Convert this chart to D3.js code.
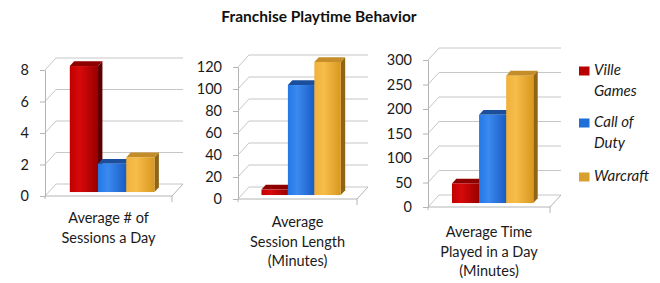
<!DOCTYPE html>
<html>
<head>
<meta charset="utf-8">
<script src="https://cdn.jsdelivr.net/npm/d3@7"></script>
<style>
  body { margin: 0; background: #fff; }
  svg { display: block; font-family: Lato, "Open Sans", sans-serif; }
</style>
</head>
<body>
<svg width="660" height="283"></svg>
<script>
// data
const series = ["Ville Games", "Call of Duty", "Warcraft"];
const legendLines = [["Ville", "Games"], ["Call of", "Duty"], ["Warcraft"]];
const panelLabels = [
  ["Average # of", "Sessions a Day"],
  ["Average", "Session Length", "(Minutes)"],
  ["Average Time", "Played in a Day", "(Minutes)"],
];
const sessionsPerDay = [8, 1.8, 2.2];
const sessionLength = [5, 100, 121];
const timePlayedPerDay = [40, 180, 260];
const yMaxes = [8, 120, 300];
const tickSteps = [2, 20, 50];

const panelValues = [sessionsPerDay, sessionLength, timePlayedPerDay];

// layout of each little 3d box: front-left x, floor width, front zero y, front top y
const LAYOUT = [
  { x0: 45, w: 127, yb: 196, yt: 70, labelY: 223 },
  { x0: 238, w: 119, yb: 199, yt: 67, labelY: 227 },
  { x0: 428, w: 122, yb: 207, yt: 60, labelY: 237 },
];
const DEPTH = { dx: 11, dy: -12 };
const BAR_FRONT = 0.33; // where the bar front sits inside the depth
const BAR_DEPTH = 0.4;

const colors = {
  "Ville Games": { light: "#d8090b", mid: "#c00000", dark: "#980000", top: "#8e0000", side: "#5e0000", key: "#b80000" },
  "Call of Duty": { light: "#3a8af0", mid: "#2477e6", dark: "#1a5cc4", top: "#1b4f9e", side: "#123a78", key: "#1f6fd8" },
  "Warcraft": { light: "#f6bd4a", mid: "#f0b13a", dark: "#d9981f", top: "#c48d28", side: "#8f6414", key: "#d9a030" },
};

const svg = d3.select("svg");
const defs = svg.append("defs");

series.forEach((s, i) => {
  const c = colors[s];
  const g = defs.append("linearGradient").attr("id", "grad" + i)
    .attr("x1", 0).attr("x2", 1).attr("y1", 0).attr("y2", 0);
  g.append("stop").attr("offset", "0%").attr("stop-color", c.mid);
  g.append("stop").attr("offset", "35%").attr("stop-color", c.light);
  g.append("stop").attr("offset", "100%").attr("stop-color", c.dark);
});

// title
svg.append("text")
  .attr("x", 319).attr("y", 22)
  .attr("text-anchor", "middle")
  .style("font-weight", "bold").style("font-size", "15.5px")
  .attr("fill", "#111")
  .text("Franchise Playtime Behavior");

const gridColor = "#c6c6c6";

panelValues.forEach((values, p) => {
  const L = LAYOUT[p];
  const g = svg.append("g");

  const y = d3.scaleLinear().domain([0, yMaxes[p]]).range([L.yb, L.yt]);
  const x = d3.scaleBand().domain(series)
    .range([L.x0, L.x0 + L.w])
    .paddingInner(0).paddingOuter(0.75);
  const ticks = d3.range(0, yMaxes[p] + tickSteps[p] / 2, tickSteps[p]);

  // side wall diagonals + back wall gridlines
  g.selectAll(".grid")
    .data(ticks)
    .join("path")
    .attr("class", "grid")
    .attr("fill", "none")
    .attr("stroke", gridColor)
    .attr("stroke-width", 1)
    .attr("d", (t) => {
      const yy = y(t);
      return `M${L.x0},${yy}L${L.x0 + DEPTH.dx},${yy + DEPTH.dy}H${L.x0 + L.w + DEPTH.dx}`;
    });

  // floor front and right edges, plus little category ticks
  g.append("path")
    .attr("fill", "none")
    .attr("stroke", "#b4b4b4")
    .attr("d", `M${L.x0},${L.yb}H${L.x0 + L.w}L${L.x0 + L.w + DEPTH.dx},${L.yb + DEPTH.dy}` +
      `M${L.x0 + L.w},${L.yb}V${L.yb + 6}M${L.x0},${L.yb}V${L.yb + 3}`);

  // value axis
  const axis = g.append("g")
    .attr("transform", `translate(${L.x0},0)`)
    .call(d3.axisLeft(y).tickValues(ticks).tickSizeInner(5).tickSizeOuter(0).tickPadding(11));
  axis.select(".domain").attr("stroke", "#b4b4b4");
  axis.selectAll(".tick line").attr("stroke", "#b4b4b4");
  axis.selectAll(".tick text")
    .attr("fill", "#1a1a1a")
    .style("font-size", "14.5px")
    .style("font-family", "Lato, sans-serif");

  // bars
  const fx = DEPTH.dx * BAR_FRONT, fy = DEPTH.dy * BAR_FRONT;
  const bx = DEPTH.dx * BAR_DEPTH, by = DEPTH.dy * BAR_DEPTH;
  const bw = x.bandwidth();

  const bars = g.selectAll(".bar")
    .data(series.map((s, i) => ({ s, i, v: values[i] })))
    .join("g")
    .attr("class", "bar");

  bars.append("path")
    .attr("fill", (d) => colors[d.s].side)
    .attr("d", (d) => {
      const xr = x(d.s) + fx + bw, yt = y(d.v) + fy, yb = y(0) + fy;
      return `M${xr},${yt}L${xr + bx},${yt + by}V${yb + by}L${xr},${yb}Z`;
    });
  bars.append("path")
    .attr("fill", (d) => colors[d.s].top)
    .attr("d", (d) => {
      const xl = x(d.s) + fx, yt = y(d.v) + fy;
      return `M${xl},${yt}H${xl + bw}L${xl + bw + bx},${yt + by}H${xl + bx}Z`;
    });
  bars.append("rect")
    .attr("x", (d) => x(d.s) + fx)
    .attr("y", (d) => y(d.v) + fy)
    .attr("width", bw)
    .attr("height", (d) => y(0) - y(d.v))
    .attr("fill", (d) => `url(#grad${d.i})`);

  // category label under the box
  const lab = g.append("text")
    .attr("text-anchor", "middle")
    .attr("fill", "#1a1a1a")
    .style("font-size", "14.5px");
  panelLabels[p].forEach((line, k) => {
    lab.append("tspan")
      .attr("x", L.x0 + L.w / 2)
      .attr("y", L.labelY + k * 19.5)
      .text(line);
  });
});

// legend
const legendY = [75, 127, 181];
const legend = svg.append("g");
series.forEach((s, i) => {
  legend.append("rect")
    .attr("x", 579).attr("y", legendY[i] - 8.5)
    .attr("width", 10.5).attr("height", 9)
    .attr("fill", colors[s].key);
  const t = legend.append("text")
    .attr("fill", "#1a1a1a")
    .style("font-size", "15px")
    .style("font-style", "italic");
  legendLines[i].forEach((line, k) => {
    t.append("tspan").attr("x", 594).attr("y", legendY[i] + k * 21).text(line);
  });
});
</script>
</body>
</html>
